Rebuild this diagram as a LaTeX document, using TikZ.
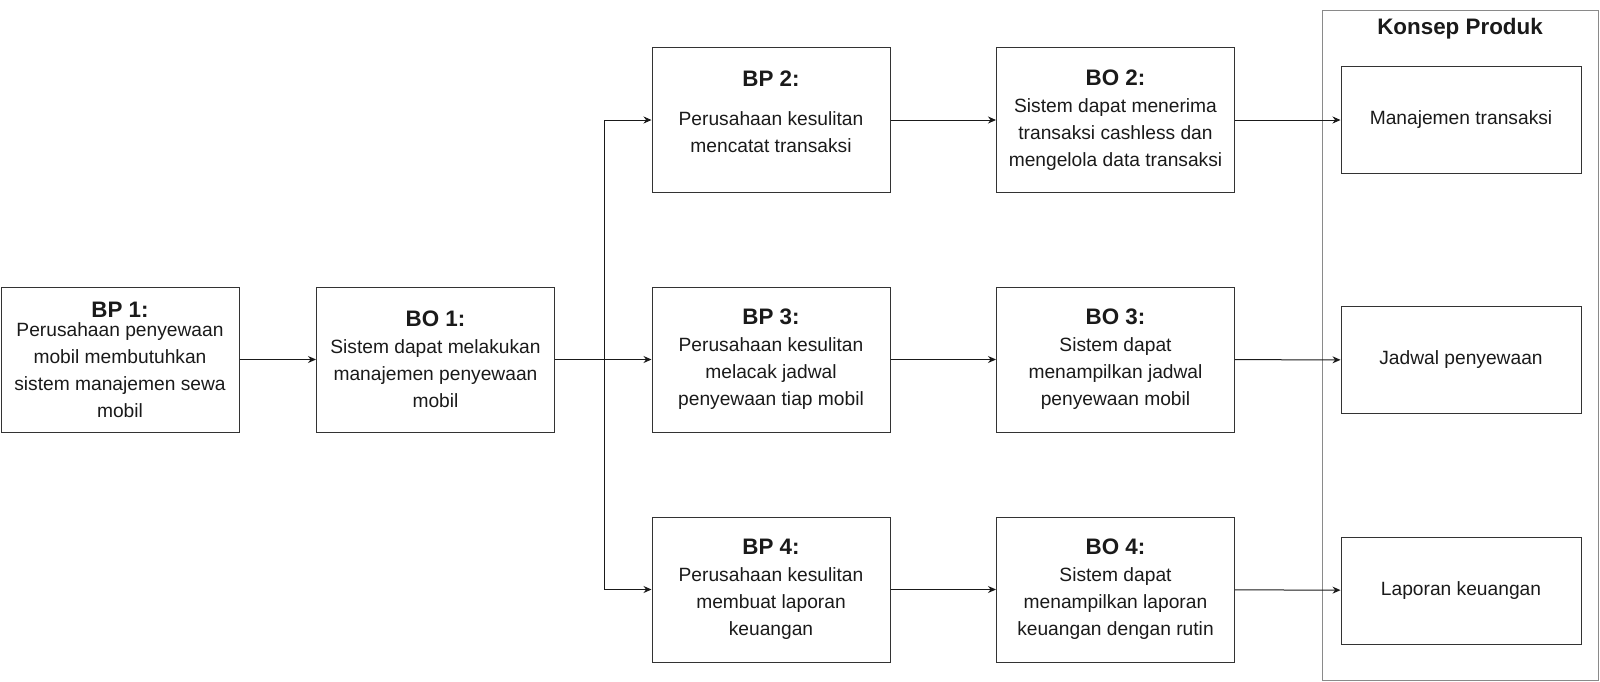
\documentclass[tikz,border=0pt]{standalone}
\usepackage{fontspec}
\setmainfont{Liberation Sans}
\usepackage{tikz}
\usetikzlibrary{arrows.meta,calc}
\definecolor{line}{HTML}{333333}
\definecolor{frame}{HTML}{8A8A8A}
\definecolor{ink}{HTML}{1A1A1A}
\tikzset{
  box/.style={draw=line, line width=1pt, minimum width=238pt, minimum height=145pt,
    align=center, text=ink, inner sep=0pt, font=\fontsize{19.2}{27}\selectfont},
  item/.style={draw=line, line width=1pt, minimum width=240pt, minimum height=107pt,
    align=center, text=ink, inner sep=0pt, font=\fontsize{19.2}{27}\selectfont},
  group/.style={draw=frame, line width=1pt, minimum width=276pt, minimum height=670pt},
  head/.style={text=ink, font=\fontsize{22.4}{27}\selectfont\bfseries},
  body/.style={align=center, text=ink, font=\fontsize{19.2}{27}\selectfont},
  link/.style={draw=ink, line width=1pt, -{Stealth[length=8pt,width=7pt]}},
}
\newcommand{\hd}[1]{{\fontsize{22.4}{27}\selectfont\bfseries #1}}

\begin{document}
\begin{tikzpicture}[x=1pt,y=-1pt]
  \useasboundingbox (0,0) rectangle (1600,681);
  % problem and objective boxes
  \node[box] (bp1) at (120,359.5) {\hd{BP 1:}\\[-8pt]Perusahaan penyewaan\\mobil membutuhkan\\sistem manajemen sewa\\mobil};
  \node[box] (bo1) at (435.5,359.5) {\hd{BO 1:}\\Sistem dapat melakukan\\manajemen penyewaan\\mobil};
  \node[box] (bp2) at (771,120) {};
  \node[body] (bp2txt) at ([yshift=8pt]bp2.center) {\hd{BP 2:}\\[12pt]Perusahaan kesulitan\\mencatat transaksi};
  \node[box] (bo2) at (1115.5,120) {\hd{BO 2:}\\Sistem dapat menerima\\transaksi cashless dan\\mengelola data transaksi};
  \node[box] (bp3) at (771,359.5) {\hd{BP 3:}\\Perusahaan kesulitan\\melacak jadwal\\penyewaan tiap mobil};
  \node[box] (bo3) at (1115.5,359.5) {\hd{BO 3:}\\Sistem dapat\\menampilkan jadwal\\penyewaan mobil};
  \node[box] (bp4) at (771,589.5) {\hd{BP 4:}\\Perusahaan kesulitan\\membuat laporan\\keuangan};
  \node[box] (bo4) at (1115.5,589.5) {\hd{BO 4:}\\Sistem dapat\\menampilkan laporan\\keuangan dengan rutin};
  % product concept
  \node[group] (konsep) at (1460,345) {};
  \node[head] (title) at (1460,29) {Konsep Produk};
  \node[item] (kp1) at (1461,120) {Manajemen transaksi};
  \node[item] (kp2) at (1461,360) {Jadwal penyewaan};
  \node[item] (kp3) at (1461,590.5) {Laporan keuangan};
  % connectors
  \coordinate (split) at (604,359.5);
  \draw[link] (bp1) -- (bo1);
  \draw[link] (bo1) -- (bp3);
  \draw[link] (split) |- (bp2.west);
  \draw[link] (split) |- (bp4.west);
  \draw[link] (bp2) -- (bo2);
  \draw[link] (bp3) -- (bo3);
  \draw[link] (bp4) -- (bo4);
  \draw[link] (bo2) -- (kp1);
  \draw[link] (bo3) -- (kp2);
  \draw[link] (bo4) -- (kp3);
\end{tikzpicture}
\end{document}
